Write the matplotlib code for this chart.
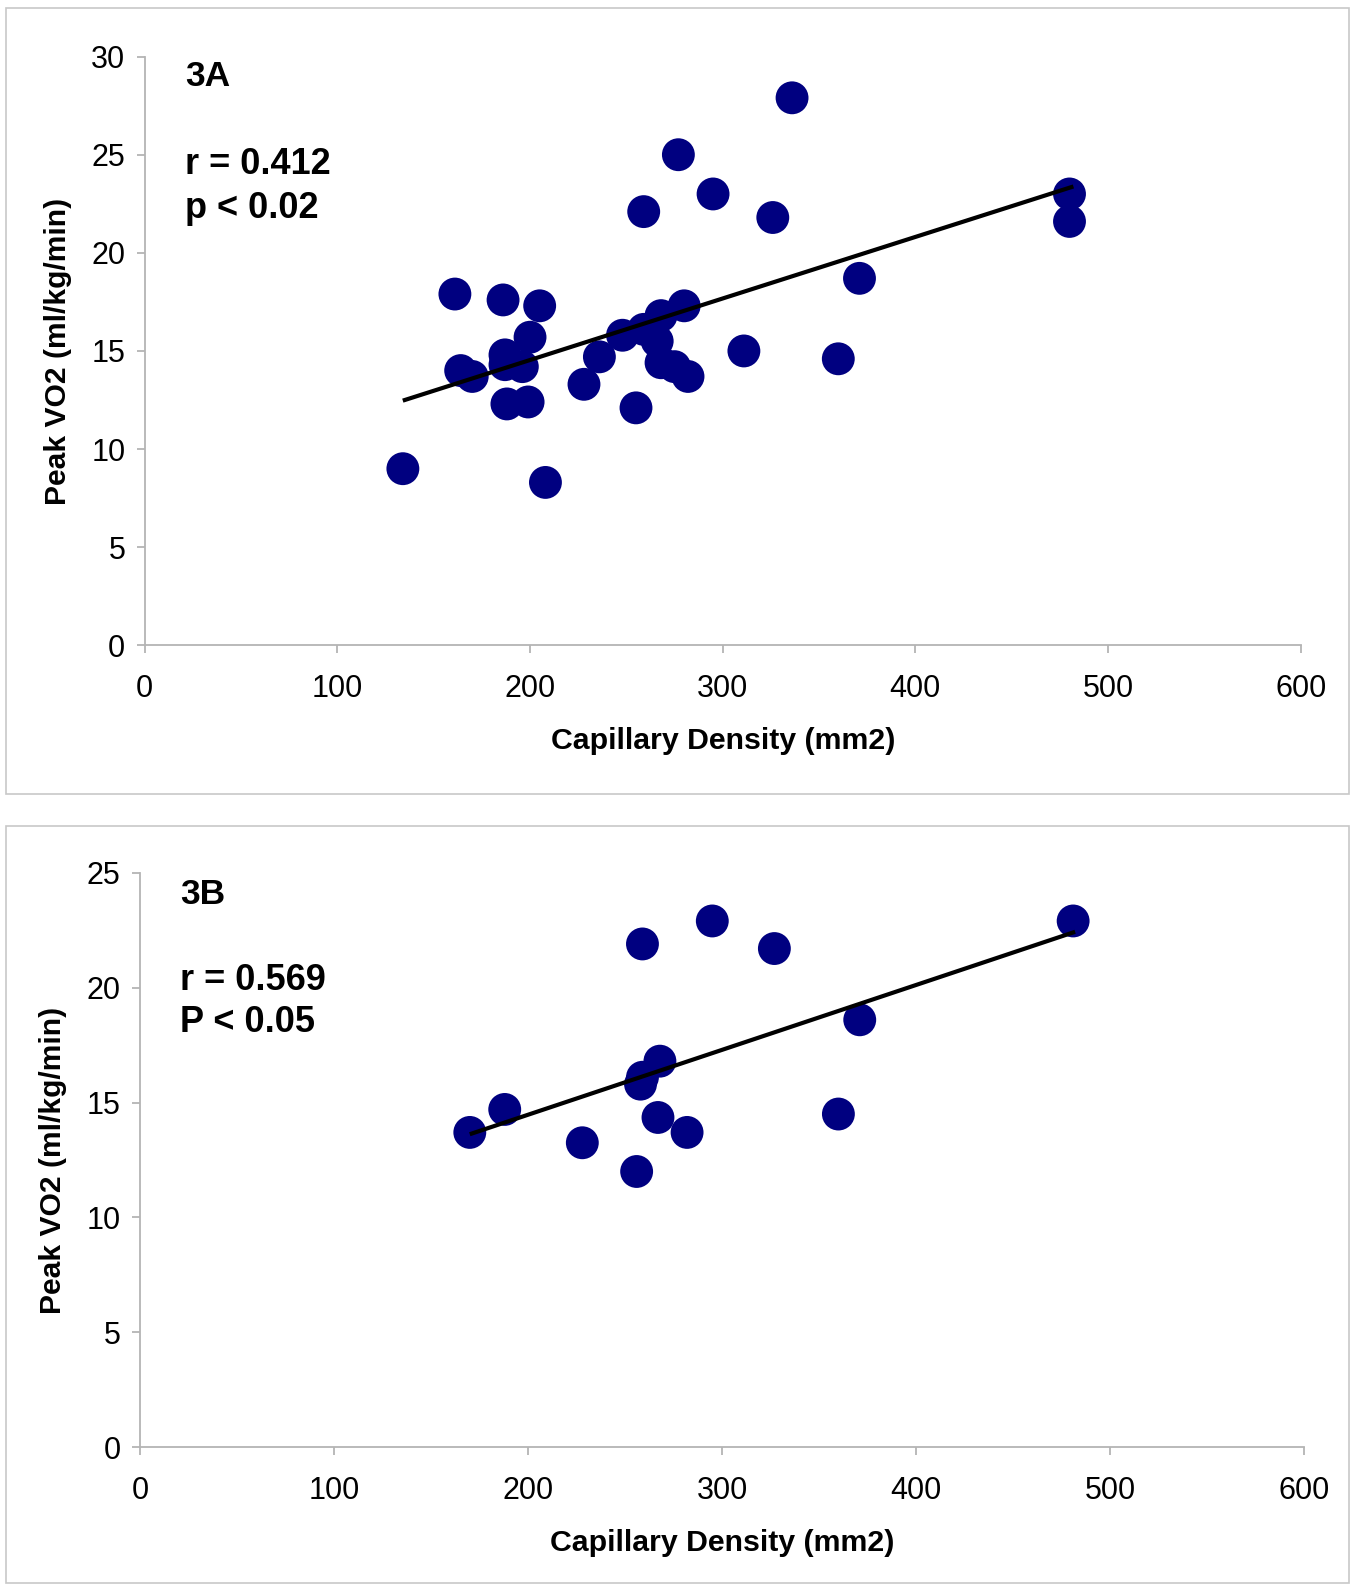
import matplotlib.pyplot as plt
from matplotlib.patches import Rectangle
import numpy as np

plt.rcParams['font.family'] = ['Liberation Sans', 'DejaVu Sans']

# panel 3A data
cap_a = [134, 161, 164, 170, 186, 187, 187, 188, 196, 199, 200, 205, 208, 228, 236,
         248, 255, 259, 259, 266, 268, 268, 275, 277, 280, 282, 295, 311, 326, 336,
         360, 371, 480, 480]
vo2_a = [9.0, 17.9, 14.0, 13.7, 17.6, 14.8, 14.3, 12.3, 14.2, 12.4, 15.7, 17.3, 8.3, 13.3, 14.7,
         15.8, 12.1, 22.1, 16.1, 15.5, 16.8, 14.4, 14.2, 25.0, 17.3, 13.7, 23.0, 15.0, 21.8, 27.9,
         14.6, 18.7, 23.0, 21.6]
trend_a_x = [135, 481]
trend_a_y = [12.5, 23.35]

# panel 3B data
cap_b = [170, 188, 228, 256, 259, 258, 259, 268, 267, 282, 295, 327, 360, 371, 481]
vo2_b = [13.7, 14.7, 13.25, 12.0, 21.9, 15.8, 16.1, 16.8, 14.35, 13.7, 22.9, 21.7, 14.5, 18.6, 22.9]
trend_b_x = [171, 481]
trend_b_y = [13.65, 22.4]

W, H = 1355, 1585
fig = plt.figure(figsize=(W / 100, H / 100), dpi=100)

# light gray frames around each panel
fig.patches.append(Rectangle((6 / W, 1 - 794 / H), 1343 / W, 786 / H, transform=fig.transFigure,
                             fill=False, edgecolor='#c8c8c8', lw=1.2))
fig.patches.append(Rectangle((6 / W, 1 - 1583 / H), 1343 / W, 757 / H, transform=fig.transFigure,
                             fill=False, edgecolor='#c8c8c8', lw=1.2))


def style(ax, ymax):
    ax.set_xlim(0, 600)
    ax.set_ylim(0, ymax)
    ax.set_xticks(np.arange(0, 601, 100))
    ax.set_yticks(np.arange(0, ymax + 1, 5))
    for s in ['top', 'right']:
        ax.spines[s].set_visible(False)
    for s in ['left', 'bottom']:
        ax.spines[s].set_color('#b4b4b4')
        ax.spines[s].set_linewidth(1.3)
    ax.tick_params(colors='#b4b4b4', labelcolor='black', length=6, width=1.3, labelsize=22)
    ax.tick_params(axis='x', pad=15)
    ax.tick_params(axis='y', pad=8)
    ax.set_xlabel('Capillary Density (mm2)', fontsize=21.8, fontweight='bold', labelpad=16)
    ax.set_ylabel('Peak VO2 (ml/kg/min)', fontsize=21.6, fontweight='bold', labelpad=14)


# 3A
ax1 = fig.add_axes([144.7 / W, 1 - 645.3 / H, 1156 / W, 588.7 / H])
ax1.scatter(cap_a, vo2_a, s=560, color='#000080', edgecolors='none', zorder=3)
ax1.plot(trend_a_x, trend_a_y, color='black', lw=3, zorder=4)
style(ax1, 30)
fig.text(185 / W, 1 - 77 / H, '3A', fontsize=25.5, fontweight='bold', va='center')
fig.text(185 / W, 1 - 164 / H, 'r = 0.412', fontsize=26, fontweight='bold', va='center')
fig.text(185 / W, 1 - 209 / H, 'p < 0.02', fontsize=26, fontweight='bold', va='center')

# 3B
ax2 = fig.add_axes([140 / W, 1 - 1447.3 / H, 1164 / W, 574.6 / H])
ax2.scatter(cap_b, vo2_b, s=560, color='#000080', edgecolors='none', zorder=3)
ax2.plot(trend_b_x, trend_b_y, color='black', lw=3, zorder=4)
style(ax2, 25)
fig.text(180 / W, 1 - 894 / H, '3B', fontsize=25.5, fontweight='bold', va='center')
fig.text(180 / W, 1 - 980 / H, 'r = 0.569', fontsize=26, fontweight='bold', va='center')
fig.text(180 / W, 1 - 1023 / H, 'P < 0.05', fontsize=26, fontweight='bold', va='center')

fig.savefig('out.png', dpi=100)
